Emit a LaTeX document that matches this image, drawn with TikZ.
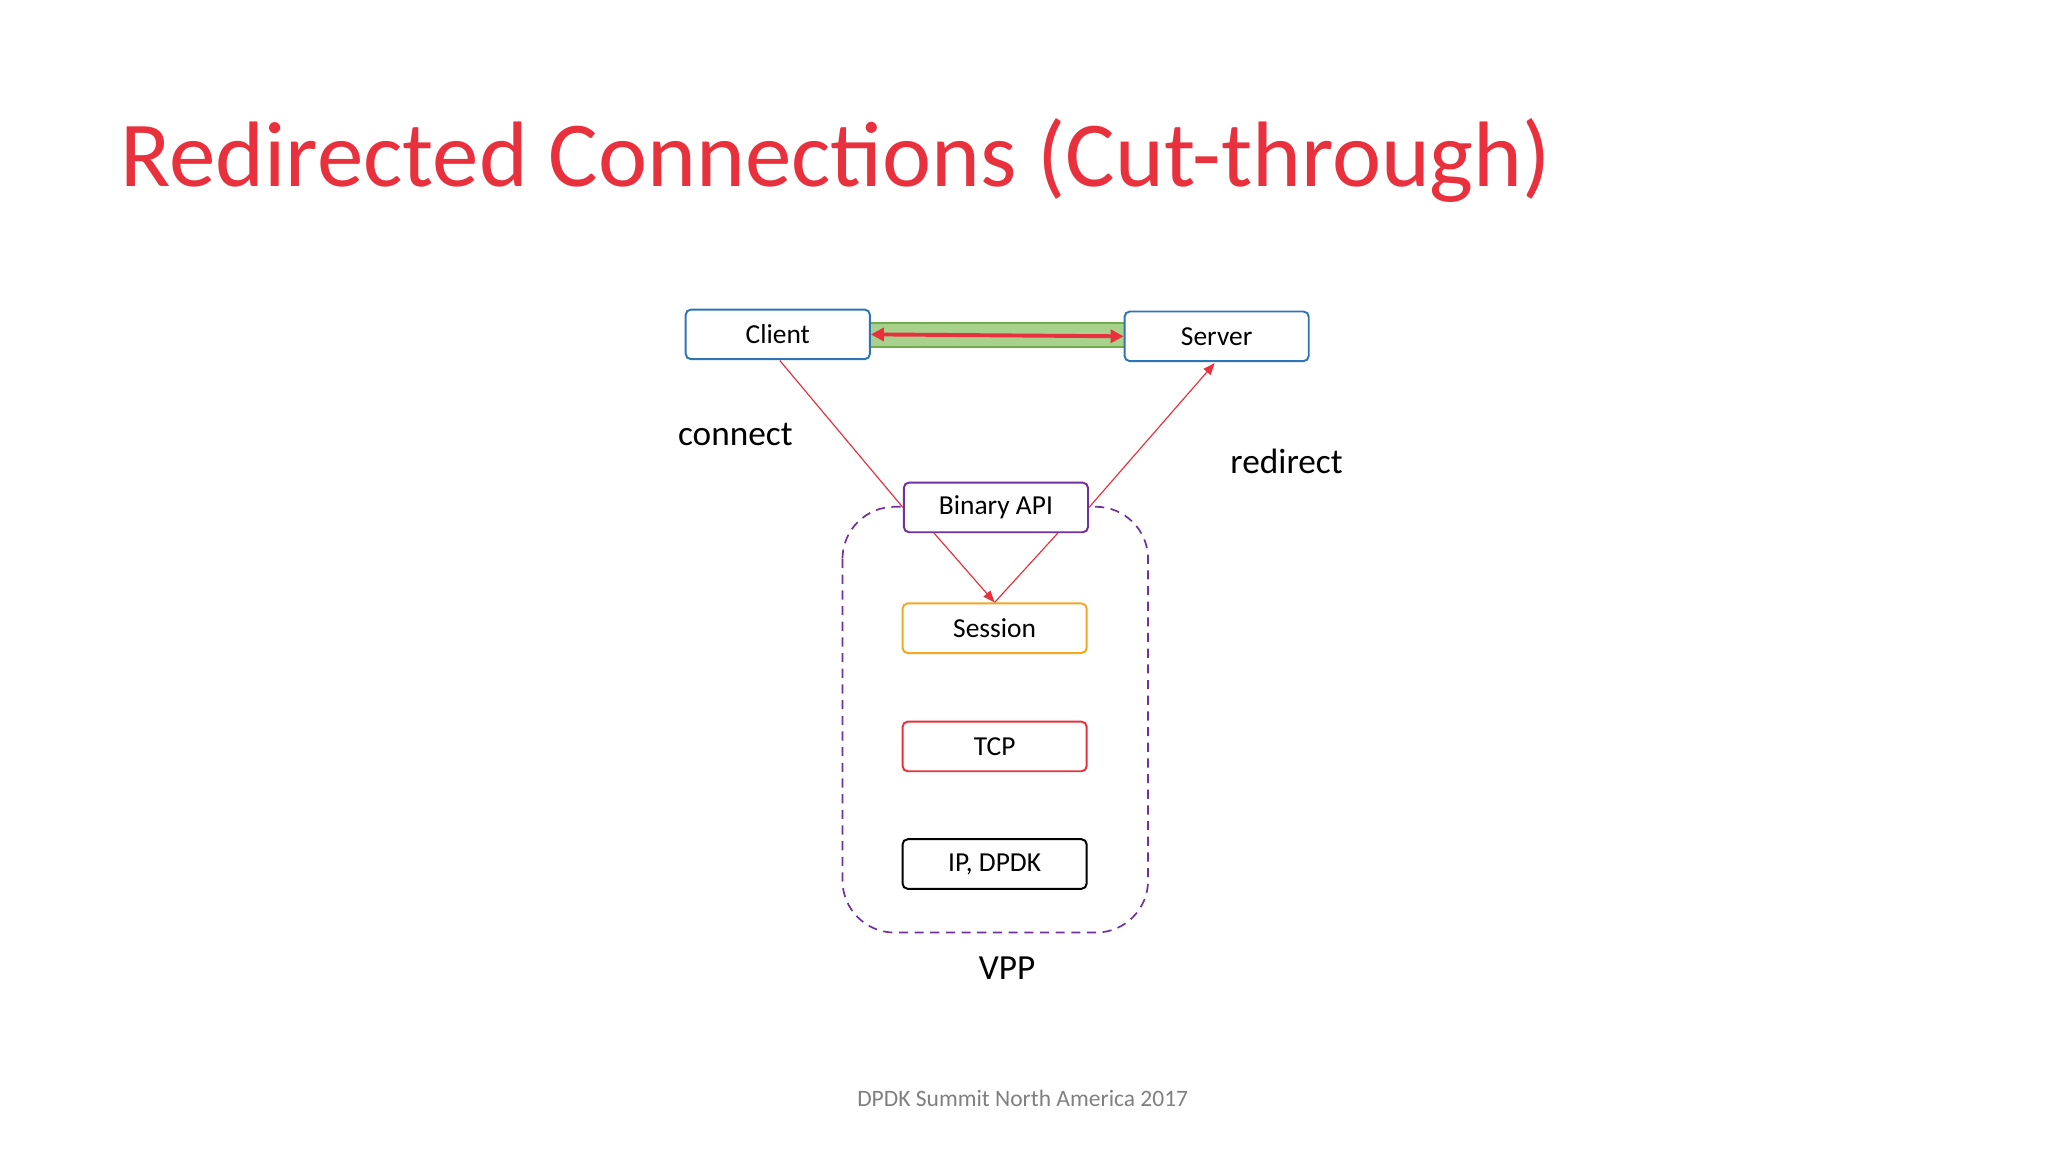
\documentclass[tikz,border=0pt]{standalone}
\usepackage{fontspec}
\setmainfont{Carlito}
\usetikzlibrary{arrows.meta}
\definecolor{tred}{HTML}{E8313C}
\definecolor{bbox}{HTML}{2E75B6}
\definecolor{pur}{HTML}{7030A0}
\definecolor{org}{HTML}{F5A623}
\definecolor{gfill}{HTML}{A9D18E}
\definecolor{gline}{HTML}{70AD47}
\begin{document}
\begin{tikzpicture}[x=1pt,y=-1pt,
  box/.style={draw,fill=white,line width=1.5pt,rounded corners=4pt,minimum width=141pt,minimum height=38pt,font=\fontsize{21}{24}\selectfont,inner sep=0pt},
  lbl/.style={font=\fontsize{27}{30}\selectfont},
  conn/.style={draw=tred,line width=0.9pt},
  arr/.style={conn,-{Triangle[length=9pt,width=7pt]}}]
\useasboundingbox (0,0) rectangle (1568,882);
\fill[white] (0,0) rectangle (1568,882);
\node[anchor=base west,text=tred,font=\fontsize{71.2}{80}\selectfont,inner sep=0pt] (title) at (92,143) {Redirected Connections (Cut-through)};
\draw[pur,line width=1.3pt,dash pattern=on 7pt off 5pt,rounded corners=40pt] (645,388) rectangle (879,714);
\fill[gfill] (666,247) rectangle (861,266);
\draw[gline,line width=1.5pt] (666,247) -- (861,247) (666,266) -- (861,266);
\node[box,draw=bbox] (client) at (595.5,256) {Client};
\node[box,draw=bbox] (server) at (931.5,257.5) {Server};
\node[box,draw=pur] (api) at (762.5,388.5) {Binary API};
\node[box,draw=org] (session) at (761.5,481) {Session};
\node[box,draw=tred] (tcp) at (761.5,571.5) {TCP};
\node[box,draw=black] (ip) at (761.5,661.5) {IP, DPDK};
\draw[tred,line width=3pt,{Triangle[length=10pt,width=10pt]}-{Triangle[length=10pt,width=10pt]}] (client.east) -- (server.west);
\draw[conn] (597,276) -- (api.west);
\draw[arr] (api.east) -- (930,278);
\draw[arr] (715,408) -- (session.north);
\draw[conn] (810,408) -- (session.north);
\node[lbl] (connect) at (563,333) {connect};
\node[lbl] (redirect) at (985,353) {redirect};
\node[lbl] (vpp) at (771,741) {VPP};
\node[text=gray,font=\fontsize{18}{20}\selectfont] (foot) at (783,841) {DPDK Summit North America 2017};
\end{tikzpicture}
\end{document}
